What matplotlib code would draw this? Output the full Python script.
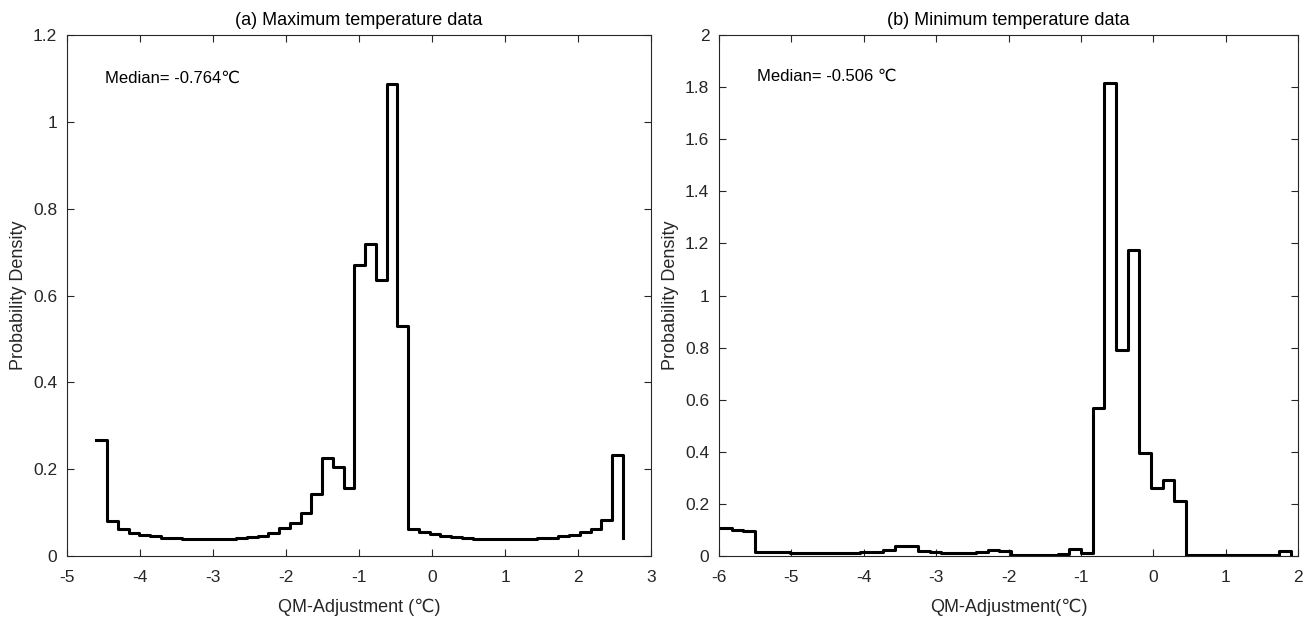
import matplotlib
matplotlib.use("Agg")
import matplotlib.pyplot as plt
import numpy as np
from matplotlib import font_manager

# (a) maximum temperature: stairs of bin densities (last point is a bare drop)
tmax_start = -4.597
tmax_width = 0.1472
tmax_density = [
    0.268, 0.081, 0.063, 0.054, 0.048, 0.045, 0.042, 0.041, 0.039, 0.039,
    0.039, 0.039, 0.040, 0.041, 0.043, 0.046, 0.054, 0.064, 0.076, 0.098,
    0.143, 0.225, 0.205, 0.157, 0.671, 0.719, 0.636, 1.088, 0.529, 0.063,
    0.056, 0.051, 0.047, 0.044, 0.042, 0.040, 0.039, 0.039, 0.039, 0.039,
    0.040, 0.041, 0.042, 0.045, 0.049, 0.055, 0.063, 0.083, 0.233, 0.041,
]
tmax_median = "Median= -0.764\u2103"

# (b) minimum temperature
tmin_start = -5.986
tmin_width = 0.1609
tmin_density = [
    0.106, 0.101, 0.096, 0.017, 0.015, 0.014, 0.013, 0.012, 0.011, 0.011,
    0.012, 0.013, 0.014, 0.017, 0.022, 0.037, 0.038, 0.021, 0.014, 0.013,
    0.013, 0.013, 0.017, 0.023, 0.021, 0.002, 0.002, 0.002, 0.002, 0.009,
    0.027, 0.013, 0.570, 1.815, 0.791, 1.174, 0.397, 0.261, 0.292, 0.210,
    0.005, 0.005, 0.005, 0.005, 0.005, 0.005, 0.005, 0.005, 0.019, 0.005,
]
tmin_median = "Median= -0.506 \u2103"

names = {f.name for f in font_manager.fontManager.ttflist}
main_font = "Liberation Sans Narrow" if "Liberation Sans Narrow" in names else "Liberation Sans"
plt.rcParams["font.family"] = [main_font, "DejaVu Sans"]

TXT = "#262626"

fig = plt.figure(figsize=(13.16, 6.26), dpi=100)
ax1 = fig.add_axes([67 / 1316, 70 / 626, 584 / 1316, 521 / 626])
ax2 = fig.add_axes([719 / 1316, 70 / 626, 579 / 1316, 521 / 626])


def draw(ax, start, width, dens, xlim, xticks, ylim, yticks, title, xlabel, note, note_xy):
    edges = start + width * np.arange(len(dens))
    ax.step(edges, dens, where="post", color="black", lw=2.2)
    ax.set_xlim(*xlim)
    ax.set_ylim(*ylim)
    ax.set_xticks(xticks)
    ax.set_yticks(yticks)
    ax.set_xticklabels([f"{t:g}" for t in xticks])
    ax.set_yticklabels([f"{t:g}" for t in yticks])
    ax.tick_params(direction="in", top=True, right=True, length=5, width=0.8,
                   labelsize=12.5, colors=TXT, pad=7)
    ax.tick_params(axis="x", pad=10)
    for s in ax.spines.values():
        s.set_color(TXT)
        s.set_linewidth(0.8)
    ax.set_title(title, fontsize=13, color="black", pad=7)
    ax.set_xlabel(xlabel, fontsize=13, color=TXT, labelpad=10,
                  family=[main_font, "DejaVu Sans"])
    ax.set_ylabel("Probability Density", fontsize=13, color=TXT, labelpad=4)
    ax.text(note_xy[0], note_xy[1], note, fontsize=12, color="black",
            ha="left", va="center", family=[main_font, "DejaVu Sans"])


draw(ax1, tmax_start, tmax_width, tmax_density, (-5, 3), list(range(-5, 4)),
     (0, 1.2), [0, 0.2, 0.4, 0.6, 0.8, 1, 1.2],
     "(a) Maximum temperature data", "QM-Adjustment (\u2103)", tmax_median, (-4.48, 1.10))
draw(ax2, tmin_start, tmin_width, tmin_density, (-6, 2), list(range(-6, 3)),
     (0, 2), [0, 0.2, 0.4, 0.6, 0.8, 1, 1.2, 1.4, 1.6, 1.8, 2],
     "(b) Minimum temperature data", "QM-Adjustment(\u2103)", tmin_median, (-5.48, 1.84))

fig.savefig("out.png", dpi=100)
